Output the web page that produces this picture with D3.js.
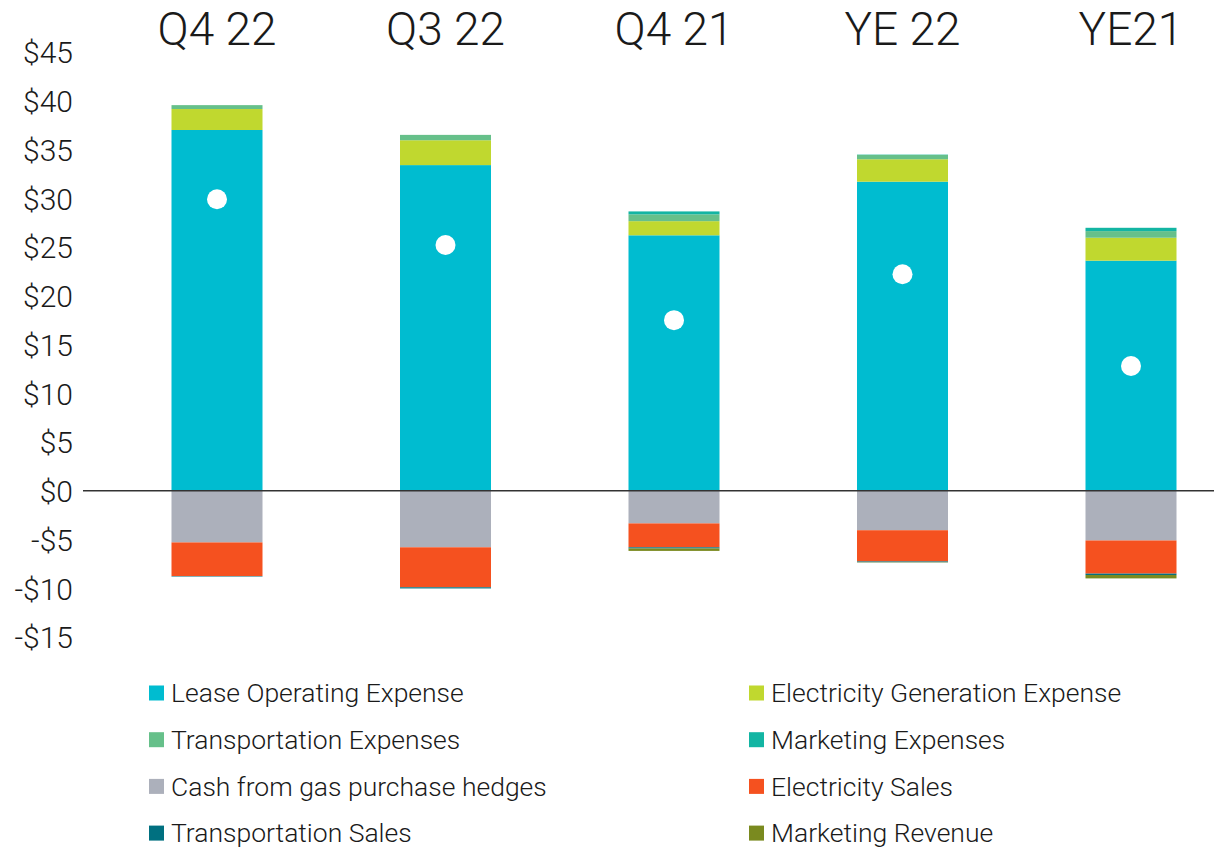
<!DOCTYPE html>
<html>
<head>
<meta charset="utf-8">
<script src="https://cdn.jsdelivr.net/npm/d3@7"></script>
<style>
  body { margin: 0; background: #fff; }
  svg text { font-family: Roboto, "Noto Sans", sans-serif; font-weight: 300; fill: #1a1a1a; }
</style>
</head>
<body>
<svg id="chart" width="1214" height="848"></svg>
<script>

var categories = ["Q4 22", "Q3 22", "Q4 21", "YE 22", "YE21"];

// positive (cost) components, stacked up from zero
var leaseOperating   = [37.0, 33.4, 26.2, 31.7, 23.6];
var elecGeneration   = [2.15, 2.55, 1.45, 2.3, 2.35];
var transportExp     = [0.4, 0.55, 0.7, 0.45, 0.68];
var marketingExp     = [0.0, 0.0, 0.3, 0.03, 0.34];

// negative (offset) components, stacked down from zero
var cashHedges       = [-5.3, -5.8, -3.35, -4.05, -5.1];
var elecSales        = [-3.45, -4.1, -2.45, -3.2, -3.4];
var transportSales   = [-0.05, -0.12, -0.12, -0.08, -0.14];
var marketingRevenue = [0.0, 0.0, -0.25, -0.03, -0.35];

// net value shown as dot
var netValue = [29.9, 25.2, 17.5, 22.2, 12.8];

var yTicks = [45, 40, 35, 30, 25, 20, 15, 10, 5, 0, -5, -10, -15];

var posSeries = [
  {name: "Lease Operating Expense", values: leaseOperating, color: "#00bcd0"},
  {name: "Electricity Generation Expense", values: elecGeneration, color: "#c0d82f"},
  {name: "Transportation Expenses", values: transportExp, color: "#66c08a"},
  {name: "Marketing Expenses", values: marketingExp, color: "#13b5a3"}
];
var negSeries = [
  {name: "Cash from gas purchase hedges", values: cashHedges, color: "#acb0bb"},
  {name: "Electricity Sales", values: elecSales, color: "#f5511f"},
  {name: "Transportation Sales", values: transportSales, color: "#007080"},
  {name: "Marketing Revenue", values: marketingRevenue, color: "#7a8a1f"}
];

var svg = d3.select("#chart");

var y = d3.scaleLinear().domain([-15, 45]).range([637, 52]);
var x = d3.scalePoint().domain(categories).range([217, 1131]);
var barW = 91;

// y axis labels
var yAxis = d3.axisLeft(y)
    .tickValues(yTicks)
    .tickSize(0)
    .tickPadding(0)
    .tickFormat(function(d) { return d < 0 ? "-$" + Math.abs(d) : "$" + d; });

var ay = svg.append("g")
    .attr("transform", "translate(73,0)")
    .call(yAxis);
ay.select(".domain").remove();
ay.selectAll("text")
    .attr("font-size", 30)
    .attr("font-family", null)
    .attr("dy", "0.36em");

// category labels on top
svg.append("g").selectAll("text")
    .data(categories)
    .enter().append("text")
    .attr("x", function(d) { return x(d); })
    .attr("y", 45)
    .attr("text-anchor", "middle")
    .attr("font-size", 46)
    .text(function(d) { return d; });

// stacked bars
function drawStack(series) {
  var offs = categories.map(function() { return 0; });
  series.forEach(function(s) {
    svg.append("g").selectAll("rect")
      .data(categories)
      .enter().append("rect")
      .attr("x", function(d) { return x(d) - barW / 2; })
      .attr("width", barW)
      .attr("y", function(d, i) {
        return y(Math.max(offs[i], offs[i] + s.values[i]));
      })
      .attr("height", function(d, i) {
        var h = Math.abs(y(offs[i] + s.values[i]) - y(offs[i]));
        offs[i] += s.values[i];
        return h;
      })
      .attr("fill", s.color);
  });
}
drawStack(posSeries);
drawStack(negSeries);

// zero line
svg.append("line")
    .attr("x1", 83).attr("x2", 1214)
    .attr("y1", y(0)).attr("y2", y(0))
    .attr("stroke", "#333")
    .attr("stroke-width", 1.3);

// net dots
svg.append("g").selectAll("circle")
    .data(categories)
    .enter().append("circle")
    .attr("cx", function(d) { return x(d); })
    .attr("cy", function(d, i) { return y(netValue[i]); })
    .attr("r", 10)
    .attr("fill", "#fff");

// legend, two columns
var legendItems = [
  {s: posSeries[0], col: 0, row: 0},
  {s: posSeries[1], col: 1, row: 0},
  {s: posSeries[2], col: 0, row: 1},
  {s: posSeries[3], col: 1, row: 1},
  {s: negSeries[0], col: 0, row: 2},
  {s: negSeries[1], col: 1, row: 2},
  {s: negSeries[2], col: 0, row: 3},
  {s: negSeries[3], col: 1, row: 3}
];

var leg = svg.append("g").selectAll("g")
    .data(legendItems)
    .enter().append("g")
    .attr("transform", function(d) {
      return "translate(" + (d.col == 0 ? 149 : 749) + "," + (693 + d.row * 46.7) + ")";
    });
leg.append("rect")
    .attr("x", 0).attr("y", -7.5)
    .attr("width", 15).attr("height", 15)
    .attr("fill", function(d) { return d.s.color; });
leg.append("text")
    .attr("x", 22)
    .attr("dy", "0.35em")
    .attr("font-size", 26.5)
    .text(function(d) { return d.s.name; });

</script>
</body>
</html>
